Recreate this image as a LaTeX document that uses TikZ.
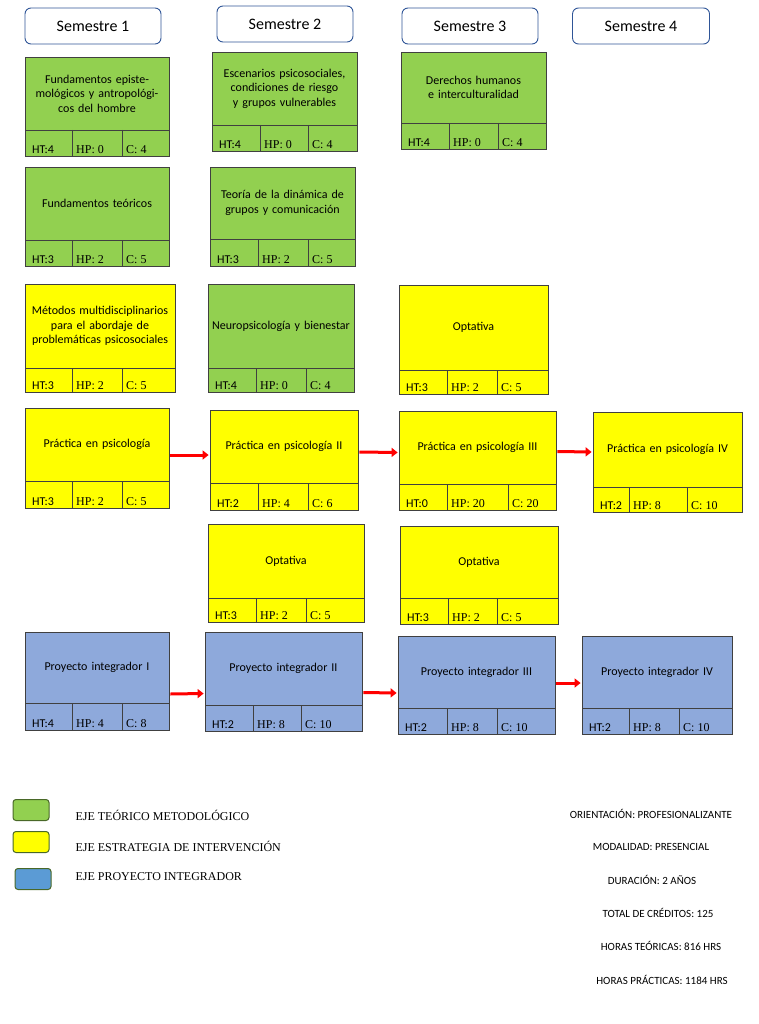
\documentclass[tikz,border=0pt]{standalone}
\usepackage{fontspec}
\setmainfont{Carlito}
\newfontfamily\tnr{Liberation Serif}
\usetikzlibrary{arrows.meta,calc}

\definecolor{teo}{HTML}{92D050}
\definecolor{est}{HTML}{FFFF00}
\definecolor{pro}{HTML}{8EA9DB}
\definecolor{legpro}{HTML}{5B9BD5}
\definecolor{hdr}{HTML}{2F5597}

\tikzset{
  course/.style={draw=black!75,line width=0.8pt,inner sep=0pt},
  title/.style={align=center,font=\fontsize{12}{14.5}\selectfont},
  cell/.style={anchor=south west,inner sep=2pt,font=\fontsize{12}{14}\selectfont},
  semester/.style={draw=hdr,line width=0.9pt,rounded corners=6pt,inner sep=0pt,font=\fontsize{16}{18}\selectfont},
  flow/.style={draw=red,line width=3pt,-{Triangle[length=6pt,width=9pt]}},
  legbox/.style={draw=teo!50!black,line width=1pt,rounded corners=3pt,inner sep=0pt,minimum width=36pt,minimum height=21pt},
  legtext/.style={anchor=west,font=\tnr\fontsize{12}{14}\selectfont},
  info/.style={font=\fontsize{11}{13}\selectfont}
}

% name, x1, y1, x2, y2, yline, xdiv1, xdiv2, fill, title, HT, HP, C
\newcommand{\course}[9]{%
  \node[course,fill=#9,minimum width={(#4-#2)*1pt},minimum height={(#5-#3)*1pt}] (#1) at ({(#2+#4)/2},{(#3+#5)/2}) {};
  \draw[black!75,line width=0.8pt] (#2,#6) -- (#4,#6) (#7,#6) -- (#7,#5) (#8,#6) -- (#8,#5);
  \def\cx{#2}\def\cy{#3}\def\cxx{#4}\def\cyy{#5}\def\cl{#6}\def\da{#7}\def\db{#8}\def\nm{#1}%
  \coursetext}
\newcommand{\coursetext}[4]{%
  \node[title,text width={(\cxx-\cx-6)*1pt}] (\nm-t) at ({(\cx+\cxx)/2},{(\cy+\cl)/2}) {#1};
  \node[cell] (\nm-ht) at (\cx+5,\cyy) {HT:#2};
  \node[cell,font=\tnr\fontsize{12}{14}\selectfont] (\nm-hp) at (\da+2,\cyy) {HP: #3};
  \node[cell,font=\tnr\fontsize{12}{14}\selectfont] (\nm-c) at (\db+2,\cyy) {C: #4};}

\begin{document}
\begin{tikzpicture}[x=1pt,y=-1pt]
\useasboundingbox (0,0) rectangle (759,1024);

% semesters
\node[semester,minimum width=136pt,minimum height=36pt] (s1) at (93,26) {Semestre 1};
\node[semester,minimum width=136pt,minimum height=36pt] (s2) at (285,24) {Semestre 2};
\node[semester,minimum width=136pt,minimum height=36pt] (s3) at (470,26) {Semestre 3};
\node[semester,minimum width=137pt,minimum height=36pt] (s4) at (641,26) {Semestre 4};

% semestre 1
\course{a1}{25}{57}{169}{156}{130}{72}{122}{teo}{Fundamentos epistemológicos y antropológicos del hombre}{4}{0}{4}
\course{a2}{25}{167}{169}{266}{240}{72}{122}{teo}{Fundamentos teóricos}{3}{2}{5}
\course{a3}{25}{284}{175}{392}{368}{72}{122}{est}{Métodos multidisciplinarios para el abordaje de problemáticas psicosociales}{3}{2}{5}
\course{a4}{25}{408}{169}{508}{481}{72}{122}{est}{Práctica en psicología}{3}{2}{5}
\course{a6}{25}{632}{169}{730}{703}{72}{122}{pro}{Proyecto integrador I}{4}{4}{8}

% semestre 2
\course{b1}{212}{52}{357}{151}{125}{260}{308}{teo}{Escenarios psicosociales, condiciones de riesgo y grupos vulnerables}{4}{0}{4}
\course{b2}{210}{167}{355}{266}{239}{258}{308}{teo}{Teoría de la dinámica de grupos y comunicación}{3}{2}{5}
\course{b3}{208}{284}{354}{392}{368}{256}{306}{teo}{Neuropsicología y bienestar}{4}{0}{4}
\course{b4}{210}{410}{358}{510}{483}{258}{308}{est}{Práctica en psicología II}{2}{4}{6}
\course{b5}{208}{524}{364}{622}{598}{256}{306}{est}{Optativa}{3}{2}{5}
\course{b6}{205}{632}{362}{731}{705}{253}{301}{pro}{Proyecto integrador II}{2}{8}{10}

% semestre 3
\course{c1}{401}{52}{546}{149}{123}{449}{498}{teo}{Derechos humanos e interculturalidad}{4}{0}{4}
\course{c3}{399}{285}{548}{394}{370}{447}{497}{est}{Optativa}{3}{2}{5}
\course{c4}{399}{411}{556}{510}{484}{447}{508}{est}{Práctica en psicología III}{0}{20}{20}
\course{c5}{400}{526}{558}{624}{598}{448}{497}{est}{Optativa}{3}{2}{5}
\course{c6}{398}{636}{555}{734}{708}{447}{497}{pro}{Proyecto integrador III}{2}{8}{10}

% semestre 4
\course{d4}{593}{412}{742}{512}{487}{629}{687}{est}{Práctica en psicología IV}{2}{8}{10}
\course{d6}{582}{636}{732}{734}{708}{629}{679}{pro}{Proyecto integrador IV}{2}{8}{10}

% secuencias
\draw[flow] ($(a4.east)+(1,-3)$) -- ($(b4.west)+(-1,-5)$);
\draw[flow] ($(b4.east)+(1,-8)$) -- ($(c4.west)+(-1,-8)$);
\draw[flow] ($(c4.east)+(1,-9)$) -- ($(d4.west)+(-1,-10)$);
\draw[flow] ($(a6.east)+(1,13)$) -- ($(b6.west)+(-1,12)$);
\draw[flow] ($(b6.east)+(1,11)$) -- ($(c6.west)+(-1,8)$);
\draw[flow] ($(c6.east)+(1,-2)$) -- ($(d6.west)+(-1,-2)$);

% leyenda
\node[legbox,fill=teo] (l1) at (31,810) {};
\node[legbox,fill=est] (l2) at (31,842) {};
\node[legbox,fill=legpro] (l3) at (33,879) {};
\node[legtext] (l1-t) at (72,815) {EJE TEÓRICO METODOLÓGICO};
\node[legtext] (l2-t) at (72,846) {EJE ESTRATEGIA DE INTERVENCIÓN};
\node[legtext] (l3-t) at (72,877) {EJE PROYECTO INTEGRADOR};

% datos del programa
\node[info] (i1) at (651,814) {ORIENTACIÓN: PROFESIONALIZANTE};
\node[info] (i2) at (651,847) {MODALIDAD: PRESENCIAL};
\node[info] (i3) at (652,880) {DURACIÓN: 2 AÑOS};
\node[info] (i4) at (658,913) {TOTAL DE CRÉDITOS: 125};
\node[info] (i5) at (661,946) {HORAS TEÓRICAS: 816 HRS};
\node[info] (i6) at (662,980) {HORAS PRÁCTICAS: 1184 HRS};
\end{tikzpicture}
\end{document}
